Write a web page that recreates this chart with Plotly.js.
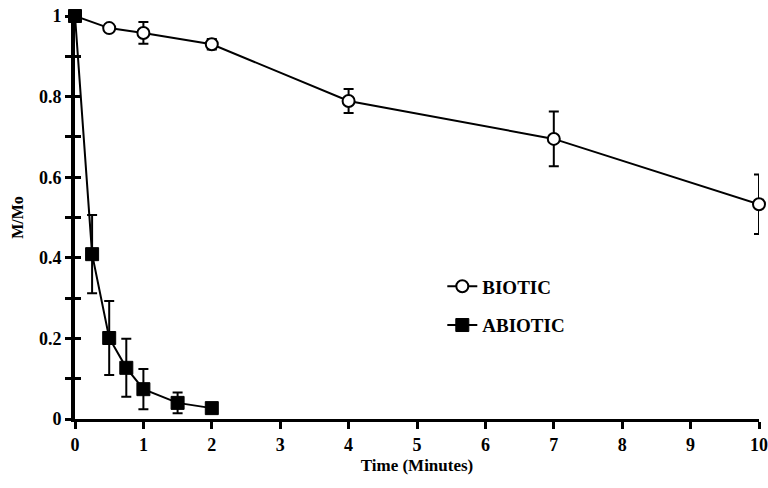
<!DOCTYPE html>
<html><head><meta charset="utf-8">
<script src="https://cdn.plot.ly/plotly-3.0.1.min.js"></script>
<style>body{margin:0;background:#fff}#c{width:768px;height:488px}</style>
</head><body><div id="c"></div>
<script>
const bioticX = [0, 0.5, 1, 2, 4, 7, 10];
const bioticY = [1.0, 0.970, 0.958, 0.930, 0.789, 0.695, 0.533];
const bioticErr = [0, 0.008, 0.027, 0.013, 0.03, 0.068, 0.074];
const abioticX = [0, 0.25, 0.5, 0.75, 1, 1.5, 2];
const abioticY = [1.0, 0.409, 0.201, 0.127, 0.074, 0.040, 0.027];
const abioticErr = [0, 0.097, 0.092, 0.072, 0.05, 0.026, 0];
const yTicks = [0, 0.1, 0.2, 0.3, 0.4, 0.5, 0.6, 0.7, 0.8, 0.9, 1];
const yTickText = ['0', '', '0.2', '', '0.4', '', '0.6', '', '0.8', '', '1'];
const xTicks = [0, 1, 2, 3, 4, 5, 6, 7, 8, 9, 10];

const font = {family: 'Liberation Serif, Times New Roman, serif', color: '#000', weight: 'bold'};
const traces = [
  {x: bioticX, y: bioticY, name: 'BIOTIC', legendgroup: 'b', type: 'scatter', mode: 'lines+markers',
   line: {color: '#000', width: 2},
   marker: {symbol: 'circle', size: 12, color: '#fff', line: {color: '#000', width: 2}},
   error_y: {type: 'data', array: bioticErr, visible: true, color: '#000', thickness: 2, width: 5},
   cliponaxis: false},
  {x: abioticX, y: abioticY, name: 'ABIOTIC', legendgroup: 'a', type: 'scatter', mode: 'lines+markers',
   line: {color: '#000', width: 2},
   marker: {symbol: 'square', size: 13, color: '#000', line: {color: '#000', width: 1}},
   error_y: {type: 'data', array: abioticErr, visible: true, color: '#000', thickness: 2, width: 5},
   cliponaxis: false},
  {x: [0], y: [0], yaxis: 'y2', type: 'scatter', mode: 'none', showlegend: false, hoverinfo: 'skip'}
];
const layout = {
  width: 768, height: 488,
  margin: {l: 75, r: 9, t: 16, b: 69},
  paper_bgcolor: '#fff', plot_bgcolor: '#fff',
  showlegend: true,
  legend: {x: 0.537, y: 0.376, xanchor: 'left', yanchor: 'top', bgcolor: 'rgba(0,0,0,0)',
           font: Object.assign({}, font, {size: 19}), itemwidth: 30, tracegroupgap: 11},
  xaxis: {range: [0, 10], tickvals: xTicks, ticks: 'outside', ticklen: 7, tickwidth: 3, tickcolor: '#000',
          showline: true, linecolor: '#000', linewidth: 3, showgrid: false, zeroline: false,
          tickfont: Object.assign({}, font, {size: 18}),
          title: {text: 'Time (Minutes)', font: Object.assign({}, font, {size: 17}), standoff: 6}},
  yaxis: {range: [0, 1], tickvals: yTicks, ticktext: yTickText, ticks: 'outside', ticklen: 6, tickwidth: 3, tickcolor: '#000',
          showline: true, linecolor: '#000', linewidth: 4, showgrid: false, zeroline: false,
          tickfont: Object.assign({}, font, {size: 18}),
          title: {text: 'M/Mo', font: Object.assign({}, font, {size: 16}), standoff: 12}},
  yaxis2: {overlaying: 'y', side: 'left', range: [0, 1], tickvals: yTicks, showticklabels: false,
           ticks: 'inside', ticklen: 6, tickwidth: 3, tickcolor: '#000', showgrid: false, zeroline: false, showline: false}
};
Plotly.newPlot('c', traces, layout, {staticPlot: true});
</script></body></html>
